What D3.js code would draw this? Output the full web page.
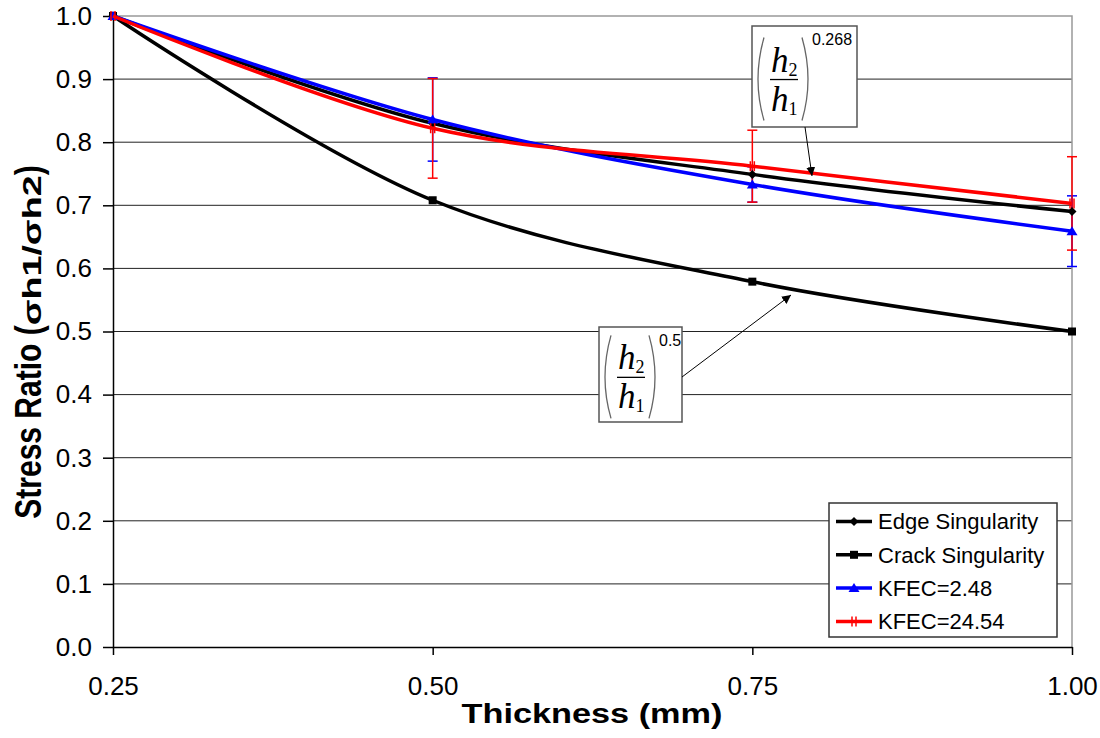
<!DOCTYPE html>
<html>
<head>
<meta charset="utf-8">
<script src="https://cdn.jsdelivr.net/npm/d3@7"></script>
<style>
  body { margin: 0; background: #fff; }
  svg { font-family: "Liberation Sans", Arial, sans-serif; }
</style>
</head>
<body>
<svg id="chart" width="1100" height="738"></svg>
<script>
// data
var thickness = [0.25, 0.50, 0.75, 1.00];
var edgeSing = [1.0, 0.830, 0.749, 0.690];
var crackSing = [1.0, 0.708, 0.579, 0.500];
var kfec248 = [1.0, 0.836, 0.733, 0.659];
var kfec2454 = [1.0, 0.822, 0.762, 0.703];
var err248 = [0, 0.066, 0.028, 0.056];
var err2454 = [0, 0.079, 0.057, 0.074];
var xTicks = [0.25, 0.50, 0.75, 1.00];
var yTicks = [0, 0.1, 0.2, 0.3, 0.4, 0.5, 0.6, 0.7, 0.8, 0.9, 1.0];

var svg = d3.select("#chart"),
    margin = {top: 16, right: 28, bottom: 91, left: 113},
    width = +svg.attr("width") - margin.left - margin.right,
    height = +svg.attr("height") - margin.top - margin.bottom,
    g = svg.append("g").attr("transform", "translate(" + margin.left + "," + margin.top + ")");

var x = d3.scaleLinear().domain([0.25, 1.0]).range([0, width]);
var y = d3.scaleLinear().domain([0, 1.0]).range([height, 0]);

var series = [
  {name: "Edge Singularity", values: edgeSing, color: "#000", marker: "diamond"},
  {name: "Crack Singularity", values: crackSing, color: "#000", marker: "square"},
  {name: "KFEC=2.48", values: kfec248, color: "#0000ff", marker: "triangle", err: err248},
  {name: "KFEC=24.54", values: kfec2454, color: "#ff0000", marker: "plus", err: err2454}
];

// gridlines
g.append("g")
  .selectAll("line")
  .data(yTicks.filter(function(d) { return d > 0 && d < 1; }))
  .enter().append("line")
  .attr("x1", 0).attr("x2", width)
  .attr("y1", function(d) { return y(d); })
  .attr("y2", function(d) { return y(d); })
  .attr("stroke", "#222")
  .attr("stroke-width", 1);

// plot frame top / right in gray
g.append("path")
  .attr("d", "M0," + y(1) + "H" + width + "V" + height)
  .attr("fill", "none")
  .attr("stroke", "#999")
  .attr("stroke-width", 1.5);

// axes
var yAxis = g.append("g")
  .call(d3.axisLeft(y).tickValues(yTicks).tickFormat(d3.format(".1f")).tickSize(10).tickSizeOuter(0).tickPadding(11));
var xAxis = g.append("g")
  .attr("transform", "translate(0," + height + ")")
  .call(d3.axisBottom(x).tickValues(xTicks).tickFormat(d3.format(".2f")).tickSize(8).tickSizeOuter(0).tickPadding(22));
[yAxis, xAxis].forEach(function(a) {
  a.attr("font-family", null).attr("font-size", null);
  a.selectAll("text").attr("font-size", 26).attr("fill", "#000");
  a.selectAll("line").attr("stroke", "#000").attr("stroke-width", 1.5);
  a.select(".domain").attr("stroke", "#000").attr("stroke-width", 1.5);
});

// error bars
series.filter(function(s) { return s.err; }).forEach(function(s) {
  var eb = g.append("g").attr("stroke", s.color).attr("stroke-width", 1.5);
  thickness.forEach(function(t, i) {
    if (!s.err[i]) return;
    var yt = y(s.values[i] + s.err[i]), yb = y(s.values[i] - s.err[i]), xc = x(t);
    eb.append("line").attr("x1", xc).attr("x2", xc).attr("y1", yt).attr("y2", yb);
    eb.append("line").attr("x1", xc - 5).attr("x2", xc + 5).attr("y1", yt).attr("y2", yt);
    eb.append("line").attr("x1", xc - 5).attr("x2", xc + 5).attr("y1", yb).attr("y2", yb);
  });
});

var line = d3.line()
  .x(function(d) { return x(d[0]); })
  .y(function(d) { return y(d[1]); })
  .curve(d3.curveCatmullRom.alpha(0.5));

function drawMarker(sel, type, color) {
  if (type === "diamond") {
    sel.append("path").attr("d", "M0,-4.5L4.5,0L0,4.5L-4.5,0Z").attr("fill", color);
  } else if (type === "square") {
    sel.append("rect").attr("x", -4).attr("y", -4).attr("width", 8).attr("height", 8).attr("fill", color);
  } else if (type === "triangle") {
    sel.append("path").attr("d", "M0,-5L5.5,4L-5.5,4Z").attr("fill", color);
  } else {
    sel.append("path").attr("d", "M-2,-5V5M2,-5V5").attr("stroke", color).attr("stroke-width", 1.5);
  }
}

// draw lines, black ones first
[1, 0, 2, 3].forEach(function(k) {
  var s = series[k];
  var pts = thickness.map(function(t, i) { return [t, s.values[i]]; });
  g.append("path")
    .datum(pts)
    .attr("d", line)
    .attr("fill", "none")
    .attr("stroke", s.color)
    .attr("stroke-width", 3.5);
  g.append("g")
    .selectAll("g")
    .data(pts)
    .enter().append("g")
    .attr("transform", function(d) { return "translate(" + x(d[0]) + "," + y(d[1]) + ")"; })
    .each(function() { drawMarker(d3.select(this), s.marker, s.color); });
});

// axis titles
svg.append("text")
  .attr("x", 592).attr("y", 723)
  .attr("text-anchor", "middle")
  .attr("font-size", 28).attr("font-weight", "bold")
  .attr("textLength", 261).attr("lengthAdjust", "spacingAndGlyphs")
  .text("Thickness (mm)");

var yl = svg.append("text")
  .attr("transform", "translate(41,342) scale(1.25,1) rotate(-90)")
  .attr("text-anchor", "middle")
  .attr("font-size", 30).attr("font-weight", "bold");
yl.append("tspan").text("Stress Ratio (");
yl.append("tspan").attr("font-size", 21)
  .attr("textLength", 150).attr("lengthAdjust", "spacingAndGlyphs").text("σh1/σh2");
yl.append("tspan").text(")");

// annotations
var defs = svg.append("defs");
defs.append("marker")
  .attr("id", "arrow")
  .attr("viewBox", "0 0 10 10")
  .attr("refX", 10).attr("refY", 5)
  .attr("markerWidth", 9).attr("markerHeight", 9)
  .attr("markerUnits", "userSpaceOnUse")
  .attr("orient", "auto")
  .append("path").attr("d", "M0,0L10,5L0,10Z").attr("fill", "#000");

function annot(left, top, w, h, expo) {
  var a = svg.append("g").attr("transform", "translate(" + left + "," + top + ")");
  a.append("rect").attr("width", w).attr("height", h)
    .attr("fill", "#fff").attr("stroke", "#555").attr("stroke-width", 1.5);
  var fy = h * 0.53;
  // parentheses
  a.append("path").attr("d", "M12," + (fy - 42) + "Q0," + fy + " 12," + (fy + 41))
    .attr("fill", "none").attr("stroke", "#666").attr("stroke-width", 1.3);
  a.append("path").attr("d", "M50," + (fy - 42) + "Q62," + fy + " 50," + (fy + 41))
    .attr("fill", "none").attr("stroke", "#666").attr("stroke-width", 1.3);
  a.append("line").attr("x1", 18).attr("x2", 46).attr("y1", fy).attr("y2", fy)
    .attr("stroke", "#000").attr("stroke-width", 1.3);
  var fam = "Liberation Serif, Times New Roman, serif";
  [["2", fy - 8], ["1", fy + 31]].forEach(function(p) {
    var t = a.append("text").attr("x", 19).attr("y", p[1])
      .attr("font-family", fam).attr("font-style", "italic").attr("font-size", 35).text("h");
    t.append("tspan").attr("font-size", 18).attr("font-style", "normal").attr("dy", 4).text(p[0]);
  });
  a.append("text").attr("x", 60).attr("y", 19)
    .attr("font-size", 16).text(expo);
}
annot(752, 26, 105, 101, "0.268");
annot(599, 327, 83, 95, "0.5");

svg.append("line")
  .attr("x1", 805).attr("y1", 127).attr("x2", 812).attr("y2", 176)
  .attr("stroke", "#000").attr("stroke-width", 1)
  .attr("marker-end", "url(#arrow)");
svg.append("line")
  .attr("x1", 682).attr("y1", 377).attr("x2", 791).attr("y2", 295)
  .attr("stroke", "#000").attr("stroke-width", 1)
  .attr("marker-end", "url(#arrow)");

// legend
var legend = svg.append("g").attr("transform", "translate(829,503)");
legend.append("rect").attr("width", 228).attr("height", 134)
  .attr("fill", "#fff").attr("stroke", "#333").attr("stroke-width", 1.5);
var items = legend.selectAll("g.item")
  .data(series)
  .enter().append("g")
  .attr("class", "item")
  .attr("transform", function(d, i) { return "translate(0," + (18.5 + i * 33.3) + ")"; });
items.append("line").attr("x1", 7).attr("x2", 43)
  .attr("stroke", function(d) { return d.color; }).attr("stroke-width", 3.5);
items.append("g").attr("transform", "translate(25,0)")
  .each(function(d) { drawMarker(d3.select(this), d.marker, d.color); });
items.append("text").attr("x", 49).attr("dy", "0.36em")
  .attr("font-size", 22).text(function(d) { return d.name; });
</script>
</body>
</html>
